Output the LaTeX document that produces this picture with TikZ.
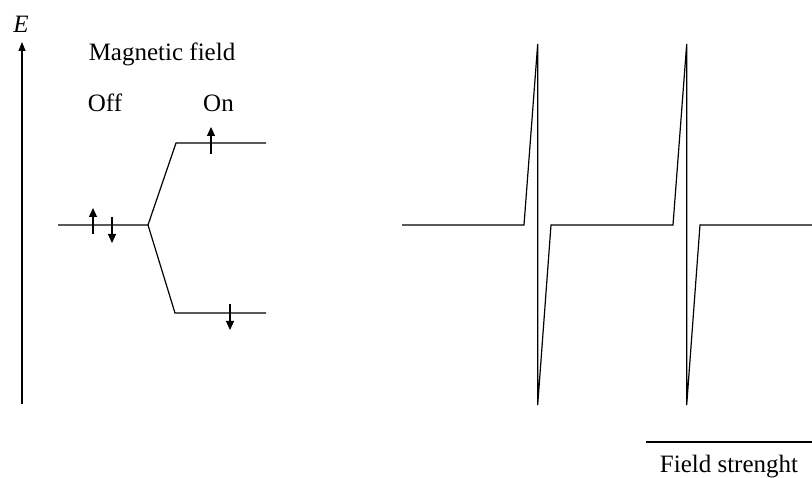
\documentclass[tikz,border=0pt]{standalone}
\usepackage{fontspec}
\setmainfont{Liberation Serif}
\usepackage{tikz}
\usetikzlibrary{arrows.meta,positioning,calc}

\tikzset{
  lbl/.style={inner sep=0pt,anchor=base,font=\fontsize{25}{30}\selectfont},
  spin/.style={line width=1.2pt,-{Triangle[width=8pt,length=9pt]}},
  level/.style={line width=1.2pt},
}

\begin{document}
\begin{tikzpicture}[x=1pt,y=-1pt]
  \useasboundingbox (0,0) rectangle (812,478);
  % energy axis
  \coordinate (e0) at (22,404);
  \coordinate (e1) at (22,42);
  \draw[line width=1.2pt,-{Triangle[width=7pt,length=9pt]}] (e0) -- (e1);
  \node[lbl] (elab) at (21,33) {\textit{E}};
  \node[lbl] (mag) at (162,61) {Magnetic field};
  \node[lbl] (off) at (105,111.5) {Off};
  \node[lbl] (on) at (218.5,111.5) {On};
  % levels
  \coordinate (a) at (58,225);
  \coordinate (s) at (148,225);
  \coordinate (u0) at (176,143);
  \coordinate (u1) at (266,143);
  \coordinate (d0) at (175,313);
  \coordinate (d1) at (266,313);
  \draw[level] (a) -- (s) -- (u0) -- (u1);
  \draw[level] (s) -- (d0) -- (d1);
  % spins
  \draw[spin] (93,234) -- (93,208);
  \draw[spin] (112,217) -- (112,243);
  \draw[spin] (211,154) -- (211,127);
  \draw[spin] (230,304) -- (230,330);
  % spectrum
  \draw[level,line join=miter] (402,225) -- (524,225) -- (537.7,44) -- (537.7,405)
    -- (551,225) -- (673,225) -- (686.7,44) -- (686.7,405) -- (700,225) -- (812,225);
  % field axis
  \coordinate (f0) at (646,442);
  \coordinate (f1) at (812,442);
  \draw[level] (f0) -- (f1);
  \node[lbl] (flab) at (729,472) {Field strenght};
\end{tikzpicture}
\end{document}
